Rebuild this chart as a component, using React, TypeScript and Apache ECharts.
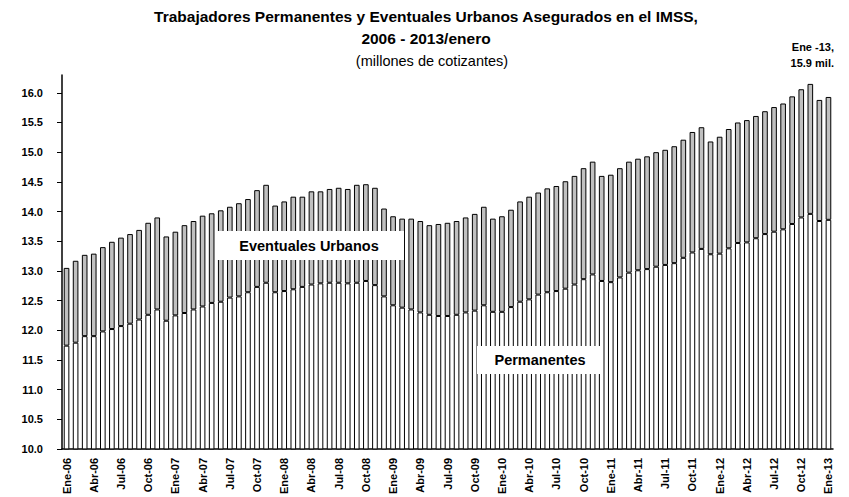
import React, { useEffect, useRef } from "react";
import * as echarts from "echarts";

const monthNames = ["Ene", "Feb", "Mar", "Abr", "May", "Jun", "Jul", "Ago", "Sep", "Oct", "Nov", "Dic"];
const years = ["06", "07", "08", "09", "10", "11", "12", "13"];

const categories: string[] = [];
years.forEach((y, yi) => {
  monthNames.forEach((m, mi) => {
    if (yi === years.length - 1 && mi > 0) return;
    categories.push(`${m}-${y}`);
  });
});

// Total insured workers (millions)
const totals = [
  13.05, 13.17, 13.27, 13.29, 13.40, 13.49, 13.56, 13.62, 13.69, 13.81, 13.90, 13.58,
  13.66, 13.77, 13.84, 13.93, 13.97, 14.02, 14.08, 14.14, 14.21, 14.36, 14.45, 14.10,
  14.17, 14.25, 14.25, 14.34, 14.34, 14.38, 14.40, 14.38, 14.45, 14.46, 14.40, 14.05,
  13.92, 13.88, 13.88, 13.84, 13.77, 13.79, 13.81, 13.84, 13.90, 13.96, 14.08, 13.88,
  13.92, 14.03, 14.17, 14.25, 14.32, 14.39, 14.43, 14.51, 14.60, 14.73, 14.84, 14.60,
  14.62, 14.73, 14.84, 14.89, 14.93, 15.00, 15.04, 15.10, 15.21, 15.34, 15.42, 15.18,
  15.26, 15.39, 15.50, 15.54, 15.61, 15.69, 15.76, 15.82, 15.94, 16.06, 16.15, 15.88,
  15.93,
];

// Permanent workers (millions)
const permanentes = [
  11.74, 11.79, 11.90, 11.90, 11.98, 12.02, 12.07, 12.11, 12.18, 12.26, 12.35, 12.16,
  12.25, 12.29, 12.35, 12.40, 12.46, 12.48, 12.55, 12.57, 12.64, 12.73, 12.80, 12.64,
  12.66, 12.69, 12.73, 12.77, 12.79, 12.80, 12.80, 12.79, 12.80, 12.83, 12.76, 12.57,
  12.42, 12.38, 12.35, 12.30, 12.26, 12.24, 12.24, 12.26, 12.30, 12.33, 12.42, 12.31,
  12.31, 12.39, 12.48, 12.52, 12.60, 12.64, 12.66, 12.70, 12.77, 12.86, 12.94, 12.83,
  12.81, 12.89, 12.97, 13.01, 13.03, 13.07, 13.10, 13.13, 13.22, 13.31, 13.37, 13.28,
  13.29, 13.38, 13.47, 13.48, 13.55, 13.62, 13.66, 13.70, 13.79, 13.90, 13.96, 13.84,
  13.86,
];

const eventuales = totals.map((t, i) => +(t - permanentes[i]).toFixed(2));

const yTicks = [10, 10.5, 11, 11.5, 12, 12.5, 13, 13.5, 14, 14.5, 15, 15.5, 16];

const FONT = "Liberation Sans";

export default function App() {
  const ref = useRef<HTMLDivElement>(null);
  useEffect(() => {
    if (!ref.current) return;
    const chart = echarts.init(ref.current, null, { renderer: "svg" });
    chart.setOption({
      animation: false,
      backgroundColor: "#ffffff",
      textStyle: { fontFamily: FONT },
      grid: { left: 62, right: 16, top: 75, bottom: 48 },
      xAxis: {
        type: "category",
        data: categories,
        boundaryGap: true,
        axisLine: { lineStyle: { color: "#000", width: 1.5 } },
        axisTick: { interval: 2, length: 5, lineStyle: { color: "#000" } },
        axisLabel: {
          interval: 2,
          rotate: 90,
          fontSize: 11,
          fontWeight: "bold",
          color: "#000",
          fontFamily: FONT,
          margin: 9,
        },
        splitLine: { show: false },
      },
      yAxis: {
        type: "value",
        min: 10,
        max: 16.3,
        axisLine: { show: true, lineStyle: { color: "#000", width: 1.5 } },
        axisTick: { show: true, length: 5, customValues: yTicks, lineStyle: { color: "#000" } },
        axisLabel: {
          customValues: yTicks,
          formatter: (v: number) => v.toFixed(1),
          fontSize: 11,
          fontWeight: "bold",
          color: "#000",
          fontFamily: FONT,
          margin: 19,
        },
        splitLine: { show: false },
      },
      series: [
        {
          name: "Permanentes",
          type: "bar",
          stack: "total",
          data: permanentes,
          barWidth: "62%",
          itemStyle: { color: "#ffffff", borderColor: "#000", borderWidth: 1 },
        },
        {
          name: "Eventuales Urbanos",
          type: "bar",
          stack: "total",
          data: eventuales,
          barWidth: "62%",
          itemStyle: { color: "#c0c0c0", borderColor: "#000", borderWidth: 1 },
        },
      ],
      graphic: [
        {
          type: "text",
          x: 426,
          y: 16,
          style: {
            text: "Trabajadores Permanentes y Eventuales Urbanos Asegurados en el IMSS,",
            font: `bold 15.5px ${FONT}`,
            fill: "#000",
            textAlign: "center",
            textVerticalAlign: "middle",
          },
        },
        {
          type: "text",
          x: 426,
          y: 38,
          style: {
            text: "2006 - 2013/enero",
            font: `bold 15.5px ${FONT}`,
            fill: "#000",
            textAlign: "center",
            textVerticalAlign: "middle",
          },
        },
        {
          type: "text",
          x: 432,
          y: 61,
          style: {
            text: "(millones de cotizantes)",
            font: `14.5px ${FONT}`,
            fill: "#000",
            textAlign: "center",
            textVerticalAlign: "middle",
          },
        },
        {
          type: "text",
          x: 834,
          y: 47,
          style: {
            text: "Ene -13,",
            font: `bold 11px ${FONT}`,
            fill: "#000",
            textAlign: "right",
            textVerticalAlign: "middle",
          },
        },
        {
          type: "text",
          x: 834,
          y: 63,
          style: {
            text: "15.9 mil.",
            font: `bold 11px ${FONT}`,
            fill: "#000",
            textAlign: "right",
            textVerticalAlign: "middle",
          },
        },
        {
          type: "rect",
          shape: { x: 215, y: 231, width: 189, height: 29 },
          style: { fill: "#ffffff" },
          z: 100,
        },
        {
          type: "text",
          x: 309,
          y: 245.5,
          z: 101,
          style: {
            text: "Eventuales Urbanos",
            font: `bold 14.5px ${FONT}`,
            fill: "#000",
            textAlign: "center",
            textVerticalAlign: "middle",
          },
        },
        {
          type: "rect",
          shape: { x: 477, y: 346, width: 125, height: 28 },
          style: { fill: "#ffffff" },
          z: 100,
        },
        {
          type: "text",
          x: 540,
          y: 360,
          z: 101,
          style: {
            text: "Permanentes",
            font: `bold 14.5px ${FONT}`,
            fill: "#000",
            textAlign: "center",
            textVerticalAlign: "middle",
          },
        },
      ],
    });
    return () => chart.dispose();
  }, []);
  return (
    <div
      ref={ref}
      style={{ position: "fixed", left: 0, top: 0, width: 849, height: 497 }}
    />
  );
}
